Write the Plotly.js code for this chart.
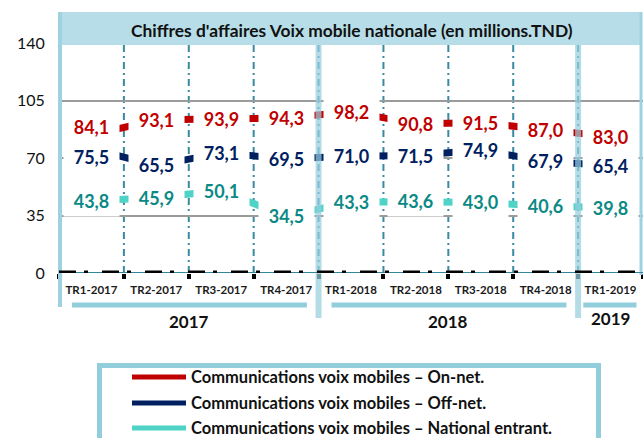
<!DOCTYPE html>
<html>
<head>
<meta charset="utf-8">
<script src="https://cdn.plot.ly/plotly-3.0.1.min.js"></script>
<style>html,body{margin:0;padding:0;background:#fff;}#chart{width:643px;height:438px;}</style>
</head>
<body>
<div id="chart"></div>
<script>
// ---- data ----
const categories = ['TR1-2017','TR2-2017','TR3-2017','TR4-2017','TR1-2018','TR2-2018','TR3-2018','TR4-2018','TR1-2019'];
const onNet      = [84.1, 93.1, 93.9, 94.3, 98.2, 90.8, 91.5, 87.0, 83.0];
const offNet     = [75.5, 65.5, 73.1, 69.5, 71.0, 71.5, 74.9, 67.9, 65.4];
const natEntrant = [43.8, 45.9, 50.1, 34.5, 43.3, 43.6, 43.0, 40.6, 39.8];
const seriesNames = ['Communications voix mobiles \u2013 On-net.',
                     'Communications voix mobiles \u2013 Off-net.',
                     'Communications voix mobiles \u2013 National entrant.'];
const yTicks = [0, 35, 70, 105, 140];
const years = ['2017', '2018', '2019'];
const yearStart = [0, 4, 8];
const yearEnd = [3, 7, 8];
const titleText = "Chiffres d'affaires Voix mobile nationale (en millions.TND)";

// ---- style ----
const FONT = 'Lato, "Open Sans", sans-serif';
const lineColors = ['#c00000', '#002060', '#4fd3c6'];
const textColors = ['#c00000', '#002060', '#0b8985'];
const series = [onNet, offNet, natEntrant];
const M = {l: 59, r: 0, t: 43, b: 165};
const W = 643, H = 438;
const PW = W - M.l - M.r, PH = H - M.t - M.b;
const px = x => (x - M.l) / PW;          // pixel x -> paper
const py = y => (H - M.b - y) / PH;      // pixel y -> paper

const traces = series.map((vals, s) => ({
  type: 'scatter', mode: 'lines', x: categories, y: vals, name: seriesNames[s],
  line: {color: lineColors[s], width: 7}, hoverinfo: 'skip', showlegend: false
}));

const annotations = [];
series.forEach((vals, s) => {
  vals.forEach((v, i) => {
    let ys = 0;
    if (i === 0 && s === 0) ys = 8;
    if (i === 0 && s === 1) ys = -8;
    annotations.push({
      x: i, y: v, xref: 'x', yref: 'y', showarrow: false,
      text: v.toFixed(1).replace('.', ','),
      font: {family: FONT, size: 18, color: textColors[s], weight: 'bold'},
      bgcolor: '#ffffff', width: 53, height: 28, borderpad: 1, yshift: ys
    });
  });
});
// year labels
years.forEach((yr, k) => {
  annotations.push({
    x: (yearStart[k] + yearEnd[k]) / 2, y: py(k === 2 ? 318 : 321), xref: 'x', yref: 'paper',
    showarrow: false, text: yr, yanchor: 'middle',
    font: {family: FONT, size: 17, color: '#111', weight: 'bold'}
  });
});
// legend text
const legRows = [377, 403, 428];
seriesNames.forEach((n, s) => {
  annotations.push({
    x: px(189), y: py(legRows[s]), xref: 'paper', yref: 'paper', xanchor: 'left', yanchor: 'middle',
    showarrow: false, text: n, font: {family: FONT, size: 16.5, color: '#111', weight: 'bold'}
  });
});
// title
annotations.push({
  x: px(352), y: py(30), xref: 'paper', yref: 'paper', xanchor: 'center', yanchor: 'middle',
  showarrow: false, text: titleText, font: {family: FONT, size: 17.4, color: '#111', weight: 'bold'}
});

const shapes = [];
// vertical dash-dot separators
for (let b = 0; b < categories.length - 1; b++) {
  shapes.push({type: 'line', layer: 'below', xref: 'x', yref: 'paper', x0: b + 0.5, x1: b + 0.5,
    y0: 0, y1: py(45), line: {color: '#3a8aa3', width: 2, dash: '7px,4px,2px,4px'}});
}
// title banner
shapes.push({type: 'rect', layer: 'above', xref: 'paper', yref: 'paper', x0: px(59), x1: px(641),
  y0: py(45), y1: py(12), fillcolor: '#b7dee8', line: {width: 0}});
// left / right borders
shapes.push({type: 'line', layer: 'above', xref: 'paper', yref: 'paper', x0: px(60), x1: px(60),
  y0: py(307), y1: py(12), line: {color: '#9fd2e0', width: 4}});
shapes.push({type: 'line', layer: 'above', xref: 'paper', yref: 'paper', x0: px(641), x1: px(641),
  y0: py(275), y1: py(12), line: {color: '#9fd2e0', width: 3}});
// year separator bands
[3.5, 7.5].forEach(xb => {
  shapes.push({type: 'line', layer: 'above', xref: 'x', yref: 'paper', x0: xb, x1: xb,
    y0: py(318), y1: py(45), line: {color: 'rgba(150,207,222,0.72)', width: 6}});
});
// zero axis line
shapes.push({type: 'line', layer: 'above', xref: 'paper', yref: 'y', x0: 0, x1: 1, y0: 0, y1: 0,
  line: {color: '#31859c', width: 2}});
shapes.push({type: 'line', layer: 'above', xref: 'paper', yref: 'y', x0: 0, x1: 1, y0: 0, y1: 0,
  line: {color: '#000000', width: 5, dash: '17px,8px,4px,14px'}});
// year group bars
years.forEach((yr, k) => {
  const x0 = yearStart[k] - (k === 2 ? 0.42 : 0.3);
  const x1 = yearEnd[k] + (k === 2 ? 0.4 : 0.32);
  shapes.push({type: 'line', layer: 'above', xref: 'x', yref: 'paper', x0: x0, x1: x1,
    y0: py(305), y1: py(305), line: {color: '#92cddc', width: 5}});
});
// legend box
shapes.push({type: 'rect', layer: 'above', xref: 'paper', yref: 'paper', x0: px(99.5), x1: px(598.5),
  y0: py(446), y1: py(365.5), fillcolor: 'rgba(255,255,255,0)', line: {color: '#92cddc', width: 5}});
seriesNames.forEach((n, s) => {
  shapes.push({type: 'line', layer: 'above', xref: 'paper', yref: 'paper', x0: px(132), x1: px(186),
    y0: py(legRows[s]), y1: py(legRows[s]), line: {color: lineColors[s], width: 5}});
});

const layout = {
  width: W, height: H, margin: M, paper_bgcolor: '#fff', plot_bgcolor: '#fff',
  showlegend: false,
  xaxis: {type: 'category', categoryarray: categories, range: [-0.5, 8.5], fixedrange: true,
    tickson: 'boundaries', ticks: 'outside', ticklen: 5, tickwidth: 4, tickcolor: '#000',
    tickangle: 0, automargin: false, ticklabelstandoff: 8,
    showgrid: false, showline: false, zeroline: false,
    tickfont: {family: FONT, size: 11.5, color: '#1a1a1a', weight: 'bold'}},
  yaxis: {range: [0, 140], tickvals: yTicks, ticktext: yTicks.map(String), fixedrange: true,
    ticks: 'outside', ticklen: 10, tickcolor: 'rgba(0,0,0,0)', showline: false, zeroline: false,
    showgrid: true, gridcolor: '#9b9b9b', gridwidth: 2, automargin: false,
    tickfont: {family: FONT, size: 16, color: '#111'}},
  annotations: annotations, shapes: shapes
};

Plotly.newPlot('chart', traces, layout, {displayModeBar: false, staticPlot: true});
</script>
</body>
</html>
